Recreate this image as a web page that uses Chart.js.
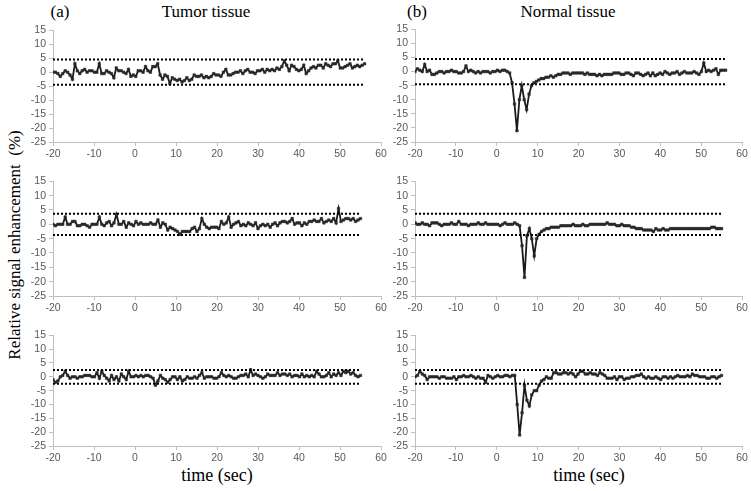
<!DOCTYPE html>
<html><head><meta charset="utf-8">
<script src="https://cdn.jsdelivr.net/npm/chart.js@4/dist/chart.umd.min.js"></script>
<style>
body{margin:0;width:751px;height:491px;background:#fff;position:relative;overflow:hidden}
canvas{position:absolute}
.t{position:absolute;font-family:'Liberation Serif','Times New Roman',serif;color:#000;white-space:nowrap;transform:translate(-50%,-50%);line-height:1}
</style></head><body>
<div class="t" style="left:60px;top:11px;font-size:17px">(a)</div>
<div class="t" style="left:206px;top:11px;font-size:17px">Tumor tissue</div>
<div class="t" style="left:417px;top:11px;font-size:17px">(b)</div>
<div class="t" style="left:568px;top:11px;font-size:17px">Normal tissue</div>
<div class="t" style="left:14px;top:245px;font-size:17px;transform:translate(-50%,-50%) rotate(-90deg)">Relative signal enhancement&nbsp;&nbsp;(%)</div>
<div class="t" style="left:217px;top:475px;font-size:18px">time (sec)</div>
<div class="t" style="left:589px;top:475px;font-size:18px">time (sec)</div>
<script>
// ---- data ----
const xTicks = [-20,-10,0,10,20,30,40,50,60];
const yTicks = [-25,-20,-15,-10,-5,0,5,10,15];

const tumor1 = [0,0,-0.5,-1.5,-0.5,0.5,0,-1,-2.5,3,0.5,-0.5,0.5,1,0,0.5,0.5,
 0,0,3,-0.5,-0.5,0.5,0,-0.5,-2,1.5,0.5,0.5,0,-0.5,1,-1.5,-1,
 -1.5,0.5,0.5,0,2,0.5,0,2,2,3,-1,-2.5,-1,-1.5,-4,-2,-2.5,
 -3,-2.5,-3.5,-3,-2,-3,-2.5,-1,-1.5,-1.5,-1,-2,-1.5,-2,-1.5,-0.5,-1,
 -1,-1.5,0,1,-1,-1,-0.5,0,0,0.5,-0.5,0.5,1,0,0,-0.5,0.5,
 0.5,1,0,1,0.5,1,0.5,1.5,1,2,4,2.5,0.5,2.5,2,1,0.5,
 1,2.5,-0.5,0.5,1.5,2,1.5,2.5,2.5,1.5,3,2.5,2,3,3,4,1.5,
 1.5,2,2.5,3,1.5,2,2.5,2,2.5,3];
const normal1 = [0,1,0.5,0,2.5,0,0.5,-1,-1,-0.5,0,0,-0.5,0,0,0.5,0,
 0,-0.5,-0.5,0,2,0,0.5,0,-0.5,0,-0.5,0,0,0,-0.5,0,0,
 0.5,0,0.5,0.5,0,-0.5,-4,-11.5,-21,-10,-5,-10,-13.5,-8,-5,-4,-3.5,
 -3,-2.5,-2.5,-2,-2,-1.5,-2,-1.5,-1,-1,-0.5,-0.5,-0.5,-1,-0.5,-0.5,-0.5,
 -0.5,-0.5,-1,-0.5,-1,-1,-1,-1.5,-1,-1.5,-1,-1,-1,-1,-0.5,-0.5,-0.5,
 -1,-1,-0.5,-0.5,-1,-1.5,-0.5,-0.5,-1,-1.5,-1,-0.5,-1.5,-0.5,-1.5,-1,-0.5,
 -1,0,-0.5,-1,-0.5,-0.5,0,-1,-0.5,0,-0.5,-0.5,-0.5,0,-0.5,-1,0,
 3,0,0.5,0,0.5,1,-1,0.5,0.5,0.5];
const tumor2 = [0,-0.5,0,0,0,2.5,0,0,1,1,-0.5,-0.5,0,0,-0.5,-1,0,
 0,0,2.5,0,-0.5,0.5,1,-0.5,0.5,3.5,0,0,1,-1,0.5,0,-0.5,
 1,0,0.5,0,0,0,0.5,0,0,1.5,-1,0.5,0,-2,-1,-1.5,-2,
 -2.5,-3.5,-2.5,-2.5,-2.5,-2.5,-1.5,-1,-2.5,-1.5,2,0,-1,-1.5,-1,-1,-1,
 -1.5,1,0,0.5,2.5,-1,0,0.5,1,-0.5,0,-0.5,0.5,0,-0.5,0.5,-1.5,
 -0.5,0,-0.5,0,-1,0,0.5,-0.5,0.5,1,1,0.5,1,2,0,0.5,0.5,
 -0.5,0.5,0,1,1,1.5,1,1,2,0.5,1,1.5,1,2,0.5,5.5,1,
 1.5,2,2,1.5,2,1,1.5,2];
const normal2 = [0.5,0,0,0.5,0,0,-0.5,0.5,0.5,0.5,0,-0.5,0,0,0,0.5,0,
 0,1,0,0,0,-0.5,0,0,0,0.5,0,0,0.5,0,0,0,0,
 0,-0.5,0,0.5,0,0,0,0.5,0,-0.5,-7.5,-18.5,-4,-1.5,-5,-11,-5,
 -3.5,-2.5,-2,-1.5,-1.5,-1,-1,-1,-1,-0.5,-0.5,-0.5,-0.5,-0.5,0,-0.5,-0.5,
 -0.5,0,-0.5,-0.5,0,0,0,0,0,0,0,0.5,0,0,0,-0.5,-0.5,
 0,-0.5,-0.5,-0.5,-1,-1,-1.5,-1.5,-1.5,-2,-2,-2,-2,-2.5,-1.5,-2,-2,
 -1.5,-2,-2,-1.5,-1.5,-1.5,-1.5,-1.5,-1.5,-1.5,-1.5,-1.5,-1.5,-1.5,-1.5,-1.5,-1.5,
 -1.5,-1.5,-1.5,-1,-1,-1.5,-1.5,-1.5];
const tumor3 = [-1,-2,-1.5,0,0.5,2,0.5,-0.5,0,0,-0.5,0,0,0.5,0.5,0.5,0,
 0,1.5,-0.5,2,0.5,-0.5,-1.5,0.5,-1,0,-1.5,1,0,-1,2,0,0,
 0.5,0,0.5,0,0.5,0.5,0,-0.5,-3,-1.5,0.5,-0.5,-1,-2,-1,0,0,
 -1,0,-1.5,-1,0,-0.5,-0.5,0,-0.5,0.5,1.5,-0.5,0,0,0,-0.5,-0.5,
 0,1.5,0.5,0,0.5,0,-0.5,-0.5,0,0.5,0.5,1,0,2.5,0.5,1,0.5,
 0,-0.5,0,1,0.5,0.5,0.5,1.5,0.5,1,1,0.5,1,0,0.5,0.5,0,
 1,0,0.5,0,0.5,0,2,1,0,0,0.5,1.5,0,1,0.5,1.5,0.5,
 2,1.5,2,1,1.5,0.5,0,0.5];
const normal3 = [0,0.5,2,1,0.5,-1,0,0,0,0,-0.5,0,0,-0.5,-0.5,-0.5,0,
 -1,0,0,0.5,0,0,0.5,0,-0.5,0,-0.5,-0.5,-2,0.5,0,-0.5,0,
 0.5,0,0,0.5,0.5,0,0.5,0.5,-10,-21,-13,-3,-8.5,-10.5,-6.5,-5,-5,
 -3,-1.5,-1,0,-0.5,-0.5,1.5,1.5,1,1,1.5,1.5,1,1.5,1,0,1,
 2,2,1,1,1.5,1,1,0.5,1.5,1,0.5,-0.5,-0.5,-0.5,0,-1,0,
 0,-1,-0.5,-0.5,0,0,0.5,0.5,1,0,-0.5,0,-0.5,-0.5,0,-0.5,-1,
 0,0,-0.5,0,-0.5,0,0.5,0,0,0,0.5,0,1,0.5,0.5,0,0,
 0,-0.5,-0.5,0,0,-0.5,0,0.5];

const tStart = [-20,-20,-20,-20,-20,-20];
const tEnd   = [56,56,55,55,55,55];
const thresholds = [4.5,4.5,3.7,3.7,2.5,2.5];

// ---- layout ----
const panels = [
  {s:tumor1, k:0, box:[53,29,381,142]},
  {s:normal1,k:1, box:[415,28,742,142]},
  {s:tumor2, k:2, box:[53,180,381,296]},
  {s:normal2,k:3, box:[415,180,742,296]},
  {s:tumor3, k:4, box:[53,334,381,446]},
  {s:normal3,k:5, box:[415,334,742,446]}
];
const YW=30, XH=20, PT=8, PR=10;
const axisCol='#bfbfbf', tickCol='#595959';
const tickFont={size:10.5,family:"'Liberation Sans', Arial, sans-serif"};

panels.forEach(p=>{
  const [x1,y1,x2,y2]=p.box;
  const c=document.createElement('canvas');
  const W=x2-x1+YW+PR, H=y2-y1+PT+XH;
  c.width=W; c.height=H;
  c.style.left=(x1-YW)+'px'; c.style.top=(y1-PT)+'px';
  c.style.width=W+'px'; c.style.height=H+'px';
  document.body.appendChild(c);
  const n=p.s.length, t0=tStart[p.k], t1=tEnd[p.k];
  const pts=p.s.map((v,i)=>({x:t0+i*(t1-t0)/(n-1), y:v}));
  const th=thresholds[p.k];
  new Chart(c,{
    type:'line',
    data:{datasets:[
      {data:[{x:t0,y:th},{x:t1,y:th}],borderColor:'#000',borderWidth:2,borderDash:[2,2],pointRadius:0},
      {data:[{x:t0,y:-th},{x:t1,y:-th}],borderColor:'#000',borderWidth:2,borderDash:[2,2],pointRadius:0},
      {data:pts,borderColor:'#1a1a1a',borderWidth:1.8,pointStyle:'rect',pointRadius:1.8,
       pointBackgroundColor:'#2a2a2a',pointBorderColor:'#2a2a2a',pointBorderWidth:0.5,tension:0}
    ]},
    options:{
      responsive:false,animation:false,devicePixelRatio:1,
      layout:{padding:{left:0,top:PT,right:PR,bottom:0}},
      plugins:{legend:{display:false},tooltip:{enabled:false}},
      scales:{
        x:{type:'linear',min:-20,max:60,
           afterBuildTicks(s){s.ticks=xTicks.map(v=>({value:v}));},
           afterFit(s){s.height=XH;},
           border:{color:axisCol,width:1},
           grid:{drawOnChartArea:false,drawTicks:true,tickLength:4,color:axisCol},
           ticks:{color:tickCol,font:tickFont,padding:2,maxRotation:0,autoSkip:false}},
        y:{min:-25,max:15,
           afterBuildTicks(s){s.ticks=yTicks.map(v=>({value:v}));},
           afterFit(s){s.width=YW;},
           border:{color:axisCol,width:1},
           grid:{drawOnChartArea:false,drawTicks:true,tickLength:4,color:axisCol},
           ticks:{color:tickCol,font:tickFont,padding:3,autoSkip:false}}
      }
    }
  });
});
</script>
</body></html>
